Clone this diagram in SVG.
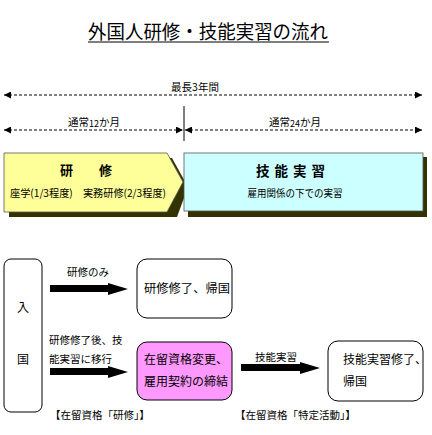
<svg xmlns="http://www.w3.org/2000/svg" width="432" height="435" viewBox="0 0 432 435">
<defs>
<style>
text{font-family:"Noto Sans CJK JP","Liberation Sans",sans-serif;fill:#000}
.s{font-size:10.5px}
.m{font-size:12px}
.dash{stroke:#000;stroke-width:1;stroke-dasharray:3 2;fill:none}
.box{fill:#fff;stroke:#000;stroke-width:1}
.fat{fill:#000}
</style>
<marker id="ah" viewBox="0 0 8 8" refX="8" refY="4" markerWidth="7" markerHeight="7" markerUnits="userSpaceOnUse" orient="auto-start-reverse">
<path d="M0,0 L8,4 L0,8 Z" fill="#000"/>
</marker>
</defs>
<rect width="432" height="435" fill="#fff"/>
<g id="title">
<text x="208" y="39" font-size="19" text-anchor="middle" textLength="240" lengthAdjust="spacingAndGlyphs">外国人研修・技能実習の流れ</text>
<line x1="88" y1="42" x2="329" y2="42" stroke="#000" stroke-width="1.2"/>
</g>
<g id="connectors">
<line class="dash" x1="4" y1="95" x2="422" y2="95" marker-start="url(#ah)" marker-end="url(#ah)"/>
<line class="dash" x1="4" y1="130" x2="183" y2="130" marker-start="url(#ah)" marker-end="url(#ah)"/>
<line class="dash" x1="185" y1="130" x2="422" y2="130" marker-start="url(#ah)" marker-end="url(#ah)"/>
<line x1="184" y1="106" x2="184" y2="141" stroke="#000" stroke-width="1"/>
<path class="fat" d="M50,285 L108,285 L108,283 L128,289 L108,295 L108,292 L50,292 Z"/>
<path class="fat" d="M50,368 L108,368 L108,366 L128,372 L108,378 L108,375 L50,375 Z"/>
<path class="fat" d="M241,364 L300,364 L300,362 L320,368 L300,374 L300,371 L241,371 Z"/>
</g>
<g id="period-labels">
<text class="s" x="195" y="91" text-anchor="middle">最長3年間</text>
<text class="s" x="94" y="126" text-anchor="middle">通常<tspan font-size="9" dy="1">12</tspan><tspan dy="-1">か月</tspan></text>
<text class="s" x="295" y="126" text-anchor="middle">通常<tspan font-size="9" dy="1">24</tspan><tspan dy="-1">か月</tspan></text>
</g>
<g id="kenshu">
<path d="M9,158 L172,158 L188,187 L177,217 L9,217 Z" fill="#333300"/>
<path d="M4,153 L167,153 L183,182 L167,212 L4,212 Z" fill="#ffff99" stroke="#555" stroke-width="0.8"/>
<text x="86" y="175" font-size="13" font-weight="bold" text-anchor="middle">研　　修</text>
<text class="s" x="88" y="197" text-anchor="middle" textLength="156" lengthAdjust="spacingAndGlyphs">座学(1/3程度)　実務研修(2/3程度)</text>
</g>
<g id="ginou">
<rect x="188" y="157" width="239" height="60" fill="#333300"/>
<rect x="184" y="153" width="239" height="58" fill="#ccffff" stroke="#555" stroke-width="0.8"/>
<text x="293" y="176" font-size="13.5" font-weight="bold" text-anchor="middle" letter-spacing="5">技能実習</text>
<text class="s" x="295" y="197" text-anchor="middle" textLength="95" lengthAdjust="spacingAndGlyphs">雇用関係の下での実習</text>
</g>
<g id="nyukoku">
<rect class="box" x="4" y="259" width="38" height="153" rx="7"/>
<text class="m" x="23" y="312" text-anchor="middle">入</text>
<text class="m" x="23" y="364" text-anchor="middle">国</text>
</g>
<g id="arrow-labels">
<text class="s" x="88" y="276" text-anchor="middle">研修のみ</text>
<text class="s" x="49" y="344">研修修了後、技</text>
<text class="s" x="49" y="363">能実習に移行</text>
<text class="s" x="276" y="361" text-anchor="middle">技能実習</text>
</g>
<g id="kenshu-end">
<rect class="box" x="137" y="259" width="95" height="59" rx="10"/>
<text class="m" x="144" y="293" textLength="86" lengthAdjust="spacingAndGlyphs">研修修了、帰国</text>
</g>
<g id="change">
<rect x="137" y="342" width="95" height="58" rx="10" fill="#ff99ff" stroke="#000" stroke-width="1"/>
<text class="m" x="144" y="364">在留資格変更、</text>
<text class="m" x="144" y="386">雇用契約の締結</text>
</g>
<g id="ginou-end">
<rect class="box" x="328" y="341" width="95" height="60" rx="10"/>
<text class="m" x="343" y="364">技能実習修了、</text>
<text class="m" x="343" y="386">帰国</text>
</g>
<g id="status-labels">
<text class="s" x="50" y="419">【在留資格「研修」】</text>
<text class="s" x="235" y="419">【在留資格「特定活動」】</text>
</g>
</svg>
